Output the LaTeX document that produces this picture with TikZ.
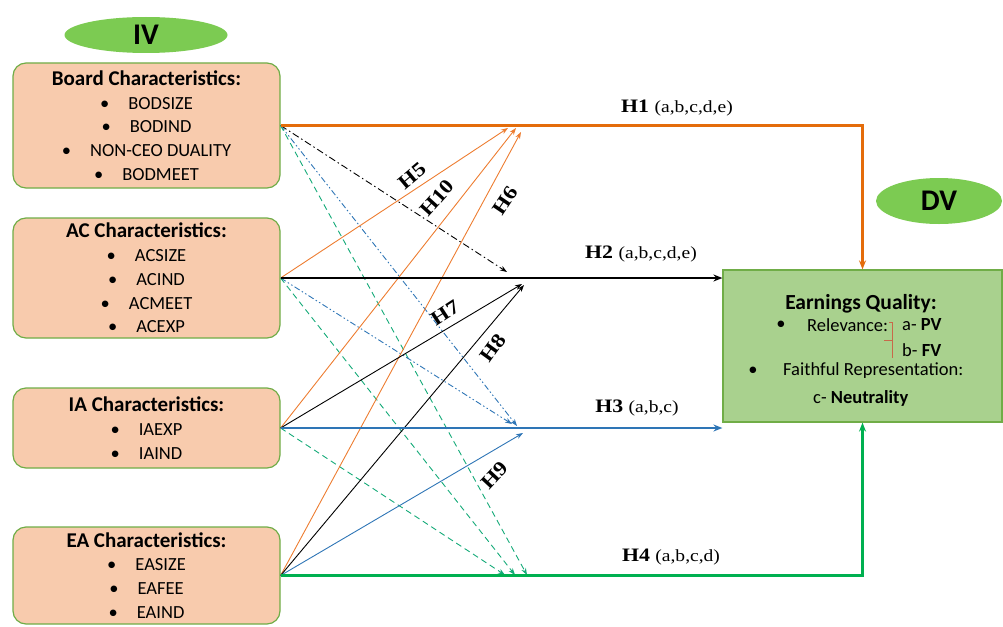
\documentclass[tikz,border=0pt]{standalone}
\usepackage{fontspec}
\setmainfont{Carlito}
\newfontfamily\hfont[FakeStretch=1.15]{Liberation Serif}
\usetikzlibrary{arrows.meta,shapes.geometric}
\definecolor{peach}{HTML}{F8CBAD}
\definecolor{boxgreen}{HTML}{70AD47}
\definecolor{eqfill}{HTML}{A9D18E}
\definecolor{ovalgreen}{HTML}{7CCB52}
\definecolor{mainorange}{HTML}{E46C0A}
\definecolor{thinorange}{HTML}{ED7D31}
\definecolor{mainblue}{HTML}{2E75B6}
\definecolor{maingreen}{HTML}{00B050}
\definecolor{tealdash}{HTML}{14AA78}
\definecolor{bracecol}{HTML}{C8694A}
\newcommand{\myitem}[1]{\textbullet\hspace{19pt}#1}
\newcommand{\mytitle}[1]{{\fontsize{21}{23.8}\selectfont\bfseries #1}}
\begin{document}
\begin{tikzpicture}[x=1pt,y=-1pt,
  lbox/.style={draw=boxgreen,line width=1.2pt,fill=peach,rounded corners=13pt,
    minimum width=267pt,align=center,inner sep=0pt,
    font=\fontsize{18.5}{23.8}\selectfont},
  oval/.style={ellipse,fill=ovalgreen,draw=none,inner sep=0pt,
    font=\fontsize{30}{30}\selectfont\bfseries},
  eqbox/.style={draw=boxgreen,line width=1.2pt,fill=eqfill,minimum width=279pt,
    minimum height=152pt},
  eqtext/.style={font=\fontsize{18.5}{20}\selectfont,inner sep=0pt},
  mainline/.style={line width=2.2pt,-{Stealth[length=9pt,width=7pt]}},
  thin/.style={line width=0.9pt,-{Stealth[length=7pt,width=5pt]}},
  hlab/.style={font=\hfont\fontsize{19}{19}\selectfont,inner sep=0pt},
  dlab/.style={font=\hfont\fontsize{20}{20}\selectfont\bfseries,inner sep=0pt},
  dashdot/.style={dash pattern=on 7pt off 3pt on 1.5pt off 3pt},
  dashdotdot/.style={dash pattern=on 6pt off 2.5pt on 1.5pt off 2.5pt on 1.5pt off 2.5pt},
  grdash/.style={dash pattern=on 6pt off 4pt}
]
\useasboundingbox (0,0) rectangle (1003,626);

% ovals
\node[oval,minimum width=163pt,minimum height=36pt] (iv) at (146,35) {IV};
\node[oval,minimum width=126pt,minimum height=46pt] (dv) at (939,201) {DV};

% left boxes
\node[lbox,minimum height=125pt] (board) at (146.5,125.5)
  {\mytitle{Board Characteristics:}\\ \myitem{BODSIZE}\\ \myitem{BODIND}\\ \myitem{NON-CEO DUALITY}\\ \myitem{BODMEET}};
\node[lbox,minimum height=120pt] (ac) at (146.5,278)
  {\mytitle{AC Characteristics:}\\ \myitem{ACSIZE}\\ \myitem{ACIND}\\ \myitem{ACMEET}\\ \myitem{ACEXP}};
\node[lbox,minimum height=80pt] (ia) at (146.5,428)
  {\mytitle{IA Characteristics:}\\ \myitem{IAEXP}\\ \myitem{IAIND}};
\node[lbox,minimum height=97pt] (ea) at (146.5,575.5)
  {\mytitle{EA Characteristics:}\\ \myitem{EASIZE}\\ \myitem{EAFEE}\\ \myitem{EAIND}};

% right box
\node[eqbox] (eq) at (862.5,346) {};
\node[eqtext,font=\fontsize{21.5}{22}\selectfont\bfseries] (eqt) at (861,304) {Earnings Quality:};
\node[eqtext] (b1) at (781,325) {\textbullet};
\node[eqtext,anchor=west] (rel) at (807,325) {Relevance:};
\node[eqtext,anchor=west] (pv) at (902,325) {a- \textbf{PV}};
\node[eqtext,anchor=west] (fv) at (902,350) {b- \textbf{FV}};
\node[eqtext] (b2) at (753,371) {\textbullet};
\node[eqtext,anchor=west] (fr) at (783,371) {Faithful Representation:};
\node[eqtext,anchor=west] (neu) at (813,398) {c- \textbf{Neutrality}};
\draw[bracecol,line width=1pt] (889,322) -- (892,322) -- (892,358);
\draw[bracecol,line width=1pt] (884,340) -- (892,340);

% end points of the diagonal arrows
\coordinate (o1) at (508,128);
\coordinate (o2) at (516,128);
\coordinate (o3) at (521,132);
\coordinate (k0) at (507,272);
\coordinate (k1) at (522,284);
\coordinate (k2) at (524,285);
\coordinate (u1) at (517,426);
\coordinate (u2) at (512,424);
\coordinate (u3) at (523,433);
\coordinate (g1) at (527,575);
\coordinate (g2) at (515,575);
\coordinate (g3) at (505,575);

% diagonals
\draw[thin,black,dashdot] (board.east) -- (k0);
\draw[thin,mainblue,dashdotdot] (board.east) -- (u1);
\draw[thin,tealdash,grdash] (board.east) -- (g1);
\draw[thin,mainblue,dashdotdot] (ac.east) -- (u2);
\draw[thin,tealdash,grdash] (ac.east) -- (g2);
\draw[thin,tealdash,grdash] (ia.east) -- (g3);
\draw[thin,thinorange] (ac.east) -- (o1);
\draw[thin,thinorange] (ia.east) -- (o2);
\draw[thin,thinorange] (ea.east) -- (o3);
\draw[thin,black] (ia.east) -- (k1);
\draw[thin,black] (ea.east) -- (k2);
\draw[thin,mainblue] (ea.east) -- (u3);

% main paths
\draw[mainline,mainorange] (board.east) -| (eq.north);
\draw[mainline,black] (ac.east) -- (ac.east -| eq.west);
\draw[mainline,mainblue] (ia.east) -- (ia.east -| eq.west);
\draw[mainline,maingreen] (ea.east) -| (eq.south);

% labels
\node[hlab] (h1) at (677,108) {\textbf{H1} {\fontsize{17}{17}\selectfont(a,b,c,d,e)}};
\node[hlab] (h2) at (641,254) {\textbf{H2} {\fontsize{17}{17}\selectfont(a,b,c,d,e)}};
\node[hlab] (h3) at (637,408) {\textbf{H3} {\fontsize{17}{17}\selectfont(a,b,c)}};
\node[hlab] (h4) at (671,557) {\textbf{H4} {\fontsize{17}{17}\selectfont(a,b,c,d)}};
\node[dlab,rotate=40] (h5) at (412,176) {H5};
\node[dlab,rotate=48] (h10) at (437,198) {H10};
\node[dlab,rotate=56] (h6) at (505,201) {H6};
\node[dlab,rotate=33] (h7) at (445,313) {H7};
\node[dlab,rotate=54] (h8) at (493,348) {H8};
\node[dlab,rotate=47] (h9) at (495,475) {H9};
\end{tikzpicture}
\end{document}
